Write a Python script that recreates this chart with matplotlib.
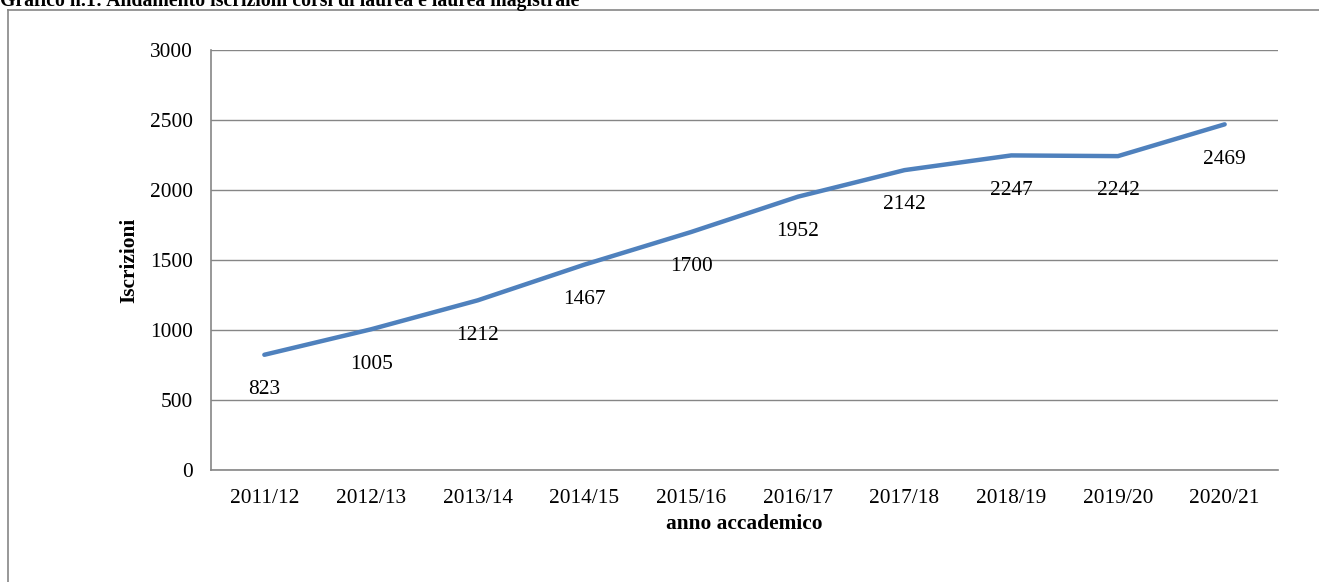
import numpy as np
import matplotlib.pyplot as plt
from matplotlib.lines import Line2D

plt.rcParams['font.family'] = ['Liberation Serif', 'DejaVu Serif']

anni = ["2011/12", "2012/13", "2013/14", "2014/15", "2015/16",
        "2016/17", "2017/18", "2018/19", "2019/20", "2020/21"]
iscrizioni = [823, 1005, 1212, 1467, 1700, 1952, 2142, 2247, 2242, 2469]

W, H = 1319, 582
FS = 15.4
fig = plt.figure(figsize=(W / 100, H / 100), dpi=100)
ax = fig.add_axes([211 / W, 1 - 470 / H, (1278 - 211) / W, (470 - 50) / H])

x = np.arange(len(anni))
ax.plot(x, iscrizioni, color="#4F81BD", lw=3.2, solid_capstyle="round", zorder=3)
for xi, v in zip(x, iscrizioni):
    ax.annotate(str(v), (xi, v), xytext=(0, -25), textcoords="offset points",
                ha="center", va="center", fontsize=FS)

ax.set_xlim(-0.5, len(anni) - 0.5)
ax.set_ylim(0, 3000)
ax.set_yticks(range(0, 3001, 500))
ax.set_xticks(x)
ax.set_xticklabels(anni)
ax.tick_params(length=0, labelsize=FS)
ax.tick_params(axis="x", pad=14)
ax.tick_params(axis="y", pad=13)
ax.grid(axis="y", color="#868686", lw=1)
ax.set_axisbelow(True)
for s in ["top", "right"]:
    ax.spines[s].set_visible(False)
for s in ["left", "bottom"]:
    ax.spines[s].set_color("#868686")
    ax.spines[s].set_linewidth(1.2)

ax.set_xlabel("anno accademico", fontweight="bold", fontsize=FS, labelpad=4)
ax.set_ylabel("Iscrizioni", fontweight="bold", fontsize=FS, labelpad=8)

# outer chart frame
fig.add_artist(Line2D([8 / W, 8 / W], [0, 1 - 10 / H], color="#868686", lw=1.2))
fig.add_artist(Line2D([8 / W, 1], [1 - 10 / H, 1 - 10 / H], color="#868686", lw=1.2))

fig.text(0, 1 - 6 / H, "Grafico n.1: Andamento iscrizioni corsi di laurea e laurea magistrale",
         fontweight="bold", fontsize=14.2, ha="left", va="baseline")

fig.savefig("out.png", dpi=100)
